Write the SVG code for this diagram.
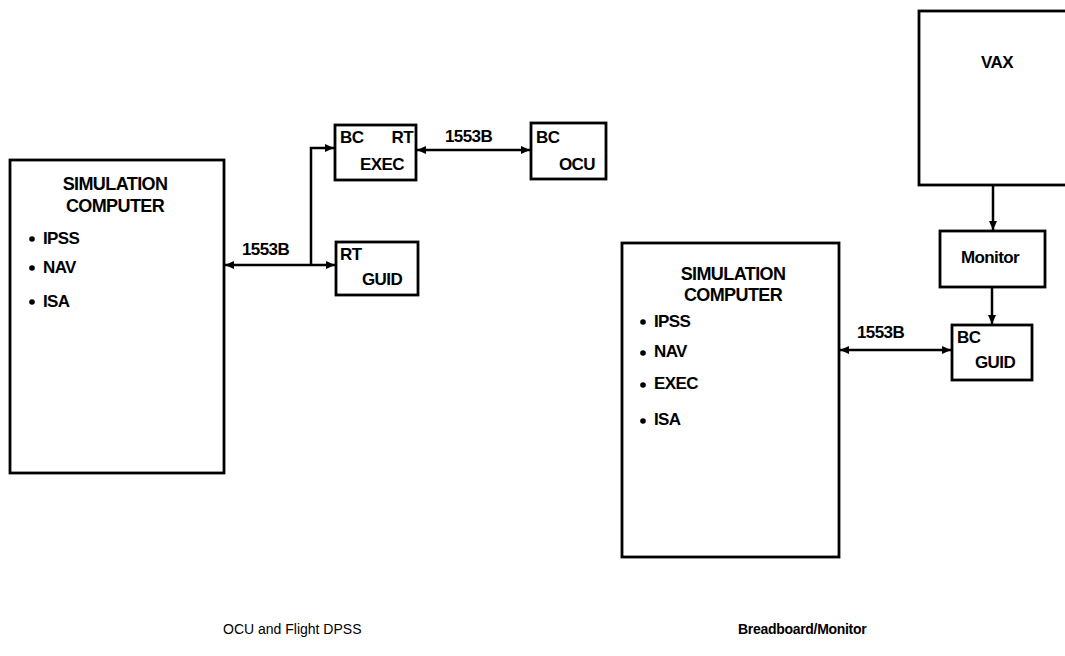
<svg xmlns="http://www.w3.org/2000/svg" width="1065" height="656" viewBox="0 0 1065 656">
<style>
.box{fill:#fff;stroke:#000;stroke-width:2.8}
.t{font-family:"Liberation Sans",Arial,sans-serif;font-weight:bold;font-size:17px;fill:#000;letter-spacing:-0.6px}
.title{font-family:"Liberation Sans",Arial,sans-serif;font-weight:bold;font-size:18px;fill:#000;letter-spacing:-0.6px;text-anchor:middle}
.cap{font-family:"Liberation Sans",Arial,sans-serif;font-size:14px;fill:#000}
.capb{font-family:"Liberation Sans",Arial,sans-serif;font-weight:bold;font-size:14px;fill:#000;letter-spacing:-0.3px}
.mid{text-anchor:middle}
.ln{fill:none;stroke:#000;stroke-width:2.5}
</style>
<defs>
<marker id="ah" viewBox="0 0 9 8" refX="9" refY="4" markerWidth="9" markerHeight="8" markerUnits="userSpaceOnUse" orient="auto-start-reverse">
<path d="M0,0 L9,4 L0,8 z" fill="#000"/>
</marker>
</defs>
<rect width="1065" height="656" fill="#fff"/>

<g id="sim1">
<rect class="box" x="10" y="160" width="214" height="313"/>
<text class="title" x="115" y="190">SIMULATION</text>
<text class="title" x="115" y="212">COMPUTER</text>
<circle cx="32" cy="239" r="2.8"/>
<text class="t" x="43" y="244">IPSS</text>
<circle cx="32" cy="268" r="2.8"/>
<text class="t" x="43" y="273">NAV</text>
<circle cx="32" cy="302" r="2.8"/>
<text class="t" x="43" y="307">ISA</text>
</g>

<g id="exec">
<rect class="box" x="335" y="125" width="81" height="55"/>
<text class="t" x="340" y="143">BC</text>
<text class="t" x="413" y="143" text-anchor="end">RT</text>
<text class="t mid" x="382" y="170">EXEC</text>
</g>

<g id="guid1">
<rect class="box" x="336" y="242" width="82" height="53"/>
<text class="t" x="340" y="260">RT</text>
<text class="t" x="362" y="285">GUID</text>
</g>

<g id="ocu">
<rect class="box" x="531" y="123" width="75" height="56"/>
<text class="t" x="536" y="143">BC</text>
<text class="t" x="559" y="170">OCU</text>
</g>

<g id="vax">
<rect class="box" x="919" y="11" width="160" height="174"/>
<text class="t mid" x="997" y="68">VAX</text>
</g>

<g id="monitor">
<rect class="box" x="940" y="231" width="105" height="56"/>
<text class="t mid" x="990" y="263">Monitor</text>
</g>

<g id="guid2">
<rect class="box" x="952" y="325" width="80" height="55"/>
<text class="t" x="957" y="343">BC</text>
<text class="t" x="975" y="368">GUID</text>
</g>

<g id="sim2">
<rect class="box" x="622" y="243" width="217" height="314"/>
<text class="title" x="733" y="280">SIMULATION</text>
<text class="title" x="733" y="301">COMPUTER</text>
<circle cx="643" cy="322" r="2.8"/>
<text class="t" x="654" y="327">IPSS</text>
<circle cx="643" cy="353" r="2.8"/>
<text class="t" x="654" y="357">NAV</text>
<circle cx="643" cy="385" r="2.8"/>
<text class="t" x="654" y="389">EXEC</text>
<circle cx="643" cy="421" r="2.8"/>
<text class="t" x="654" y="425">ISA</text>
</g>

<g id="connectors">
<line class="ln" x1="225" y1="265" x2="335" y2="265" marker-start="url(#ah)" marker-end="url(#ah)"/>
<polyline class="ln" points="311,265 311,148 334,148" marker-end="url(#ah)"/>
<line class="ln" x1="417" y1="150" x2="530" y2="150" marker-start="url(#ah)" marker-end="url(#ah)"/>
<line class="ln" x1="993" y1="186" x2="993" y2="230" marker-end="url(#ah)"/>
<line class="ln" x1="992" y1="288" x2="992" y2="324" marker-end="url(#ah)"/>
<line class="ln" x1="840" y1="350" x2="951" y2="350" marker-start="url(#ah)" marker-end="url(#ah)"/>
<text class="t" x="242" y="255">1553B</text>
<text class="t" x="445" y="142">1553B</text>
<text class="t" x="857" y="338">1553B</text>
</g>

<g id="captions">
<text class="cap" x="223" y="634">OCU and Flight DPSS</text>
<text class="capb" x="738" y="634">Breadboard/Monitor</text>
</g>
</svg>
